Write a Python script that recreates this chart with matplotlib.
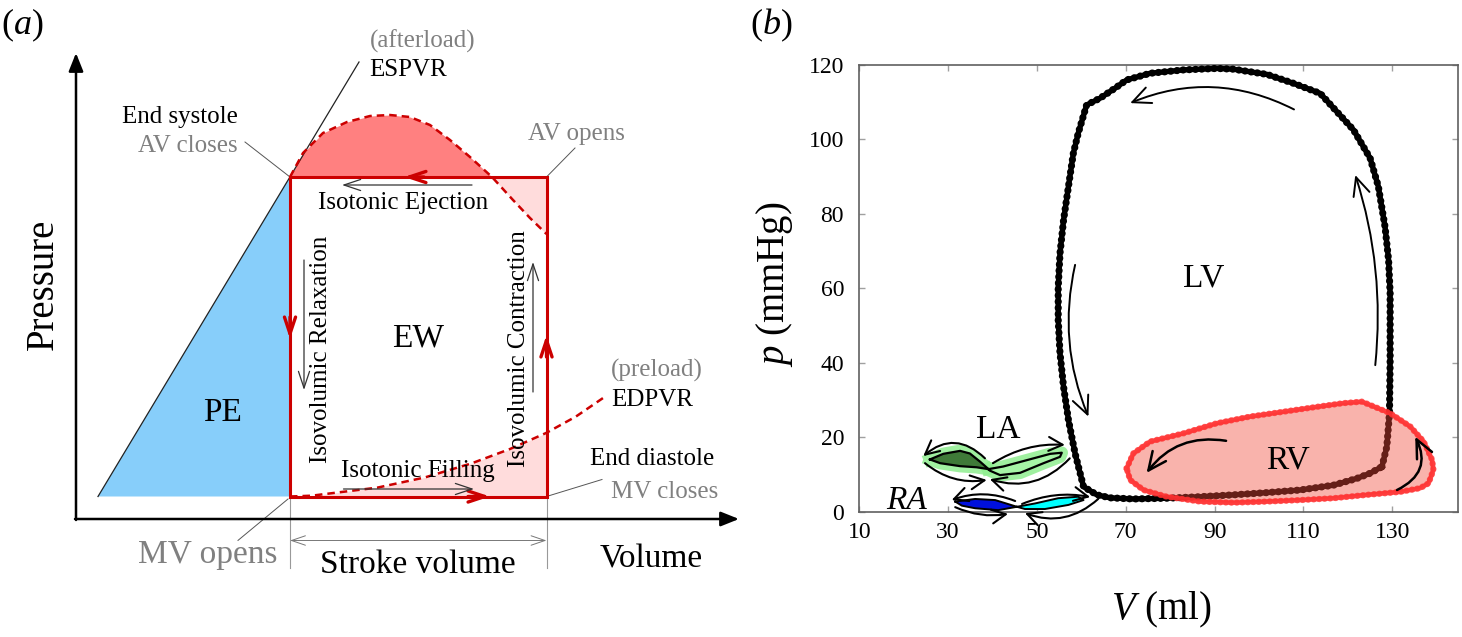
import matplotlib.pyplot as plt

plt.rcParams["font.family"] = "Liberation Serif"
plt.rcParams["mathtext.fontset"] = "custom"
plt.rcParams["mathtext.rm"] = "Liberation Serif"
plt.rcParams["mathtext.it"] = "Liberation Serif:italic"

RED = "#cc0000"
GRAY = "#808080"
SALMON = "#ff8080"
PINK = "#ffdcdc"

# ---------------- (a) schematic PV loop, arbitrary units ----------------
v0, v_es, v_ed = 2.2, 21.4, 47.05
p_ed, p_es = 2.25, 34.2
espvr_end = (28.3, 45.7)
iso_v = [21.4, 22.7, 24.7, 27.1, 29.4, 31.4, 33.4, 35.4, 37.4, 39.4, 41.6, 43.7, 45.4, 47.05]
iso_p = [34.2, 36.6, 38.6, 39.7, 40.3, 40.4, 40.2, 39.4, 37.9, 36.2, 34.2, 31.9, 30.1, 28.5]
edpvr_v = [21.4, 23.55, 30.15, 34.9, 39.6, 43.4, 47.05, 50.0, 53.0]
edpvr_p = [2.25, 2.33, 3.14, 4.16, 5.58, 7.0, 8.62, 10.25, 12.3]

# ---------------- (b) simulated loops: V (ml), p (mmHg) ----------------
lv_v = [127.7, 128.8, 129.4, 129.55, 129.55, 129.2, 128.4, 126.9, 125.05, 121.3, 117.55,
        113.8, 107.8, 101.8, 94.25, 90.5, 83.0, 75.5, 70.2, 67.6, 64.2, 61.2, 59.3, 58.2,
        57.1, 56.0, 55.2, 54.8, 54.8, 55.2, 56.0, 57.1, 58.6, 60.5, 63.5, 66.5, 71.7,
        79.25, 86.75, 94.25, 101.8, 109.3, 116.8, 122.05, 125.05]
lv_p = [12.15, 17.5, 26.5, 40.8, 58.7, 67.6, 76.5, 87.3, 94.9, 102.5, 107.4,
        112.3, 115.0, 117.4, 118.8, 119.0, 118.6, 117.7, 115.9, 113.7, 111.0, 109.2, 101.6, 96.2,
        87.3, 78.3, 69.4, 60.4, 51.5, 42.6, 33.6, 24.7, 15.7, 6.8, 4.6, 3.8, 3.5,
        3.7, 4.1, 4.6, 5.2, 5.9, 7.2, 9.0, 10.4]
rv_v = [70.2, 71.7, 75.5, 83.0, 90.5, 98.0, 105.5, 113.0, 119.0, 123.2, 125.05, 129.55,
        134.1, 137.1, 139.0, 139.3, 138.2, 136.3, 131.8, 124.3, 116.8, 109.3, 101.8, 94.25,
        86.75, 79.25, 74.0, 71.0]
rv_p = [11.7, 15.7, 18.9, 21.1, 23.8, 25.6, 26.9, 28.2, 29.2, 29.6, 28.7, 26.5,
        22.9, 18.9, 14.0, 11.3, 7.7, 6.4, 5.4, 4.6, 3.7, 3.2, 2.8, 2.5,
        2.8, 4.1, 5.9, 8.6]
la_a_v = [25.9, 28.9, 32.7, 34.9, 37.2, 39.1, 36.4, 32.7, 28.2]
la_a_p = [14.1, 15.6, 16.4, 15.7, 13.5, 11.5, 12.0, 12.3, 13.1]
la_b_v = [39.1, 42.4, 47.7, 53.0, 55.6, 55.2, 51.5, 46.2, 41.7, 39.4]
la_b_p = [11.5, 12.2, 13.9, 15.6, 15.9, 14.8, 13.1, 10.5, 9.9, 11.1]
ra_a_v = [31.6, 36.1, 40.6, 45.5, 41.3, 36.1, 33.1]
ra_a_p = [2.8, 3.5, 3.2, 1.4, 0.5, 1.0, 1.7]
ra_b_v = [45.5, 49.6, 54.8, 59.3, 60.5, 57.1, 51.8, 47.3]
ra_b_p = [1.4, 2.3, 3.7, 4.1, 3.2, 1.9, 0.8, 0.8]

x_ticks = [10, 30, 50, 70, 90, 110, 130]
y_ticks = [0, 20, 40, 60, 80, 100, 120]

# direction arrows (start, end, arc curvature)
lv_arrows = [((107.9, 108.0), (71.0, 109.7), 0.23),
             ((58.6, 66.3), (61.6, 25.6), 0.16),
             ((126.2, 39.4), (121.7, 90.4), 0.105)]
rv_arrows = [((92.6, 19.1), (74.7, 10.5), 0.3),
             ((131.1, 5.9), (135.2, 20.2), 0.5)]
la_arrows = [((38.3, 14.4), (24.4, 15.0), 0.45),
             ((24.8, 13.1), (38.7, 8.6), 0.22),
             ((40.1, 13.1), (56.3, 18.0), -0.16),
             ((57.4, 14.4), (39.4, 8.8), -0.31)]
ra_arrows = [((45.1, 2.95), (30.8, 3.2), 0.19),
             ((31.6, 1.3), (43.5, -0.5), 0.15),
             ((46.65, 2.15), (62.0, 4.0), -0.15),
             ((63.8, 3.5), (47.3, -0.3), -0.3)]


def arrow(ax, start, end, color="k", lw=1.0, style="->", hl=0.5, hw=0.2, rad=0.0, ms=20, z=6):
    ax.annotate("", xy=end, xytext=start, annotation_clip=False, zorder=z,
                arrowprops=dict(arrowstyle=f"{style},head_length={hl},head_width={hw}",
                                connectionstyle=f"arc3,rad={rad}", color=color, lw=lw,
                                shrinkA=0, shrinkB=0, mutation_scale=ms, clip_on=False))


def beaded(ax, v, p, color, lw=4.0, alpha=1.0, zorder=3):
    v = list(v) + [v[0]]
    p = list(p) + [p[0]]
    ax.plot(v, p, color=color, lw=lw * 0.75, alpha=alpha, solid_joinstyle="round", zorder=zorder)
    ax.plot(v, p, color=color, lw=lw, alpha=alpha, linestyle=(0, (0.01, 0.85)),
            dash_capstyle="round", zorder=zorder)


fig = plt.figure(figsize=(14.62, 6.37), dpi=100)

# ======================= panel (a) =======================
ax = fig.add_axes([0, 0, 740 / 1462, 1])
ax.set_xlim(-7.6, 66.4)
ax.set_ylim(-11.8, 51.9)
ax.axis("off")

# coordinate axes
arrow(ax, (0, -0.1), (0, 46.6), lw=1.8, style="-|>", hl=0.55, hw=0.22)
arrow(ax, (-0.1, 0), (66.3, 0), lw=1.8, style="-|>", hl=0.55, hw=0.22)

# potential energy triangle + ESPVR
ax.fill([v0, v_es, v_es], [p_ed, p_es, p_ed], color="#87cefa", lw=0, zorder=1)
ax.plot([v0, espvr_end[0]], [p_ed, espvr_end[1]], color="#222222", lw=0.9, zorder=2)

# isovolumic pressure curve fills
ax.fill_between(iso_v, iso_p, p_es, where=[p >= p_es for p in iso_p], interpolate=True,
                color=SALMON, lw=0, zorder=1)
ax.fill_between(iso_v, iso_p, p_es, where=[p <= p_es for p in iso_p], interpolate=True,
                color=PINK, lw=0, zorder=1)
ax.fill_between(edpvr_v[:7], edpvr_p[:7], p_ed, color=PINK, lw=0, zorder=1)
ax.plot(iso_v, iso_p, color=RED, lw=1.8, linestyle=(0, (3, 2)), zorder=2)
ax.plot(edpvr_v, edpvr_p, color=RED, lw=1.8, linestyle=(0, (3, 2)), zorder=2)

# loop rectangle
ax.plot([v_es, v_ed, v_ed, v_es, v_es], [p_es, p_es, p_ed, p_ed, p_es], color=RED, lw=2.2,
        solid_joinstyle="miter", zorder=3)
arrow(ax, (34.8, p_es), (32.8, p_es), color=RED, lw=2.4, hl=0.6, hw=0.2)
arrow(ax, (v_es, 20.2), (v_es, 18.0), color=RED, lw=2.4, hl=0.6, hw=0.2)
arrow(ax, (v_ed, 16.2), (v_ed, 18.4), color=RED, lw=2.4, hl=0.6, hw=0.2)
arrow(ax, (39.2, p_ed), (41.4, p_ed), color=RED, lw=2.4, hl=0.6, hw=0.2)

# phase arrows
arrow(ax, (39.6, 33.4), (26.6, 33.4), color="#333333", lw=0.9, hl=0.6, hw=0.2)
arrow(ax, (26.75, 3.0), (39.8, 3.0), color="#333333", lw=0.9, hl=0.6, hw=0.2)
arrow(ax, (22.8, 25.9), (22.8, 12.9), color="#333333", lw=0.9, hl=0.6, hw=0.2)
arrow(ax, (45.7, 12.7), (45.7, 25.7), color="#333333", lw=0.9, hl=0.6, hw=0.2)

# leaders and stroke volume
lead = dict(color="#555555", lw=0.7)
ax.plot([16.9, v_es], [37.7, p_es], **lead)
ax.plot([49.9, v_ed], [37.1, p_es], **lead)
ax.plot([52.6, v_ed], [3.95, p_ed], **lead)
ax.plot([16.2, v_es - 0.2], [-2.14, 2.0], **lead)
ax.plot([v_es, v_es], [2.0, -4.9], color="#999999", lw=0.8)
ax.plot([v_ed, v_ed], [2.0, -4.9], color="#999999", lw=0.8)
arrow(ax, (v_es, -2.15), (v_ed, -2.15), color="#777777", lw=0.7, style="<->", hl=0.5, hw=0.17)

fs_s = 18
ax.text(29.35, 47.8, "(afterload)", color=GRAY, fontsize=fs_s, ha="left", va="center")
ax.text(29.35, 44.9, "ESPVR", color="k", fontsize=fs_s, ha="left", va="center")
ax.text(16.2, 40.2, "End systole", color="k", fontsize=fs_s, ha="right", va="center")
ax.text(16.2, 37.3, "AV closes", color=GRAY, fontsize=fs_s, ha="right", va="center")
ax.text(45.25, 38.5, "AV opens", color=GRAY, fontsize=fs_s, ha="left", va="center")
ax.text(32.75, 31.6, "Isotonic Ejection", fontsize=fs_s, ha="center", va="center")
ax.text(24.5, 17.0, "Isovolumic Relaxation", fontsize=fs_s, ha="center", va="center", rotation=90)
ax.text(44.3, 17.0, "Isovolumic Contraction", fontsize=fs_s, ha="center", va="center", rotation=90)
ax.text(34.2, 18.1, "EW", fontsize=24, ha="center", va="center")
ax.text(14.7, 10.6, "PE", fontsize=24, ha="center", va="center")
ax.text(53.5, 14.9, "(preload)", color=GRAY, fontsize=fs_s, ha="left", va="center")
ax.text(53.5, 11.95, "EDPVR", fontsize=fs_s, ha="left", va="center")
ax.text(51.4, 6.0, "End diastole", fontsize=fs_s, ha="left", va="center")
ax.text(53.5, 2.65, "MV closes", color=GRAY, fontsize=fs_s, ha="left", va="center")
ax.text(34.2, 4.8, "Isotonic Filling", fontsize=fs_s, ha="center", va="center")
ax.text(20.2, -3.6, "MV opens", color=GRAY, fontsize=24, ha="right", va="center")
ax.text(34.2, -4.6, "Stroke volume", fontsize=24, ha="center", va="center")
ax.text(57.5, -4.0, "Volume", fontsize=24, ha="center", va="center")
ax.text(-3.26, 23.5, "Pressure", fontsize=28, ha="center", va="center", rotation=90)

fig.text(22 / 1462, 1 - 25 / 637, r"($\mathit{a}$)", fontsize=26, ha="center", va="center")
fig.text(771 / 1462, 1 - 25 / 637, r"($\mathit{b}$)", fontsize=26, ha="center", va="center")

# ======================= panel (b) =======================
bx = fig.add_axes([859.3 / 1462, 1 - 512 / 637, 599 / 1462, 447.3 / 637])
bx.set_xlim(10, 144.9)
bx.set_ylim(0, 120)
bx.set_xticks(x_ticks)
bx.set_yticks(y_ticks)
bx.tick_params(direction="in", length=4.5, width=1, color="#a0a0a0", top=True, right=True,
               labelsize=17)
bx.tick_params(axis="x", pad=7)
bx.tick_params(axis="y", pad=11)
for s in bx.spines.values():
    s.set_color("#606060")
    s.set_linewidth(1.2)

# left ventricle
beaded(bx, lv_v, lv_p, "k", lw=5.2, zorder=3)

# right ventricle
bx.fill(rv_v, rv_p, color="#f24a3a", alpha=0.42, lw=0, zorder=4)
beaded(bx, rv_v, rv_p, "#ff3030", lw=4.6, alpha=0.75, zorder=4)

# left atrium
for v, p in ((la_a_v, la_a_p), (la_b_v, la_b_p)):
    bx.plot(list(v) + [v[0]], list(p) + [p[0]], color="#90ee90", lw=9, alpha=0.85,
            solid_joinstyle="round", zorder=2)
bx.fill(la_a_v, la_a_p, color="#3f7a38", lw=0, zorder=3)
bx.fill(la_b_v, la_b_p, color="#a6f5a6", lw=0, zorder=3)
for v, p in ((la_a_v, la_a_p), (la_b_v, la_b_p)):
    bx.plot(list(v) + [v[0]], list(p) + [p[0]], color="k", lw=1.6, zorder=3)

# right atrium
bx.fill(ra_a_v, ra_a_p, color="#0010dd", lw=0, zorder=3)
bx.fill(ra_b_v, ra_b_p, color="#00ffff", lw=0, zorder=3)
for v, p in ((ra_a_v, ra_a_p), (ra_b_v, ra_b_p)):
    bx.plot(list(v) + [v[0]], list(p) + [p[0]], color="k", lw=1.4, zorder=3)

for start, end, rad in lv_arrows:
    arrow(bx, start, end, lw=1.4, hl=0.65, hw=0.3, rad=rad)
for start, end, rad in rv_arrows:
    arrow(bx, start, end, lw=1.8, hl=0.65, hw=0.3, rad=rad)
for start, end, rad in la_arrows + ra_arrows:
    arrow(bx, start, end, lw=1.5, hl=0.5, hw=0.25, rad=rad)

bx.text(87.65, 62.6, "LV", fontsize=24, ha="center", va="center")
bx.text(106.6, 14.0, "RV", fontsize=24, ha="center", va="center", zorder=5)
bx.text(41.4, 22.0, "LA", fontsize=24, ha="center", va="center")
bx.text(20.7, 3.1, "RA", fontsize=24, ha="center", va="center", style="italic")

bx.text(-0.1416, 0.51, r"$p$ (mmHg)", transform=bx.transAxes, fontsize=28, rotation=90,
        ha="center", va="center")
bx.text(0.5037, -0.218, r"$V$ (ml)", transform=bx.transAxes, fontsize=28,
        ha="center", va="center")

fig.savefig("out.png", dpi=100)
